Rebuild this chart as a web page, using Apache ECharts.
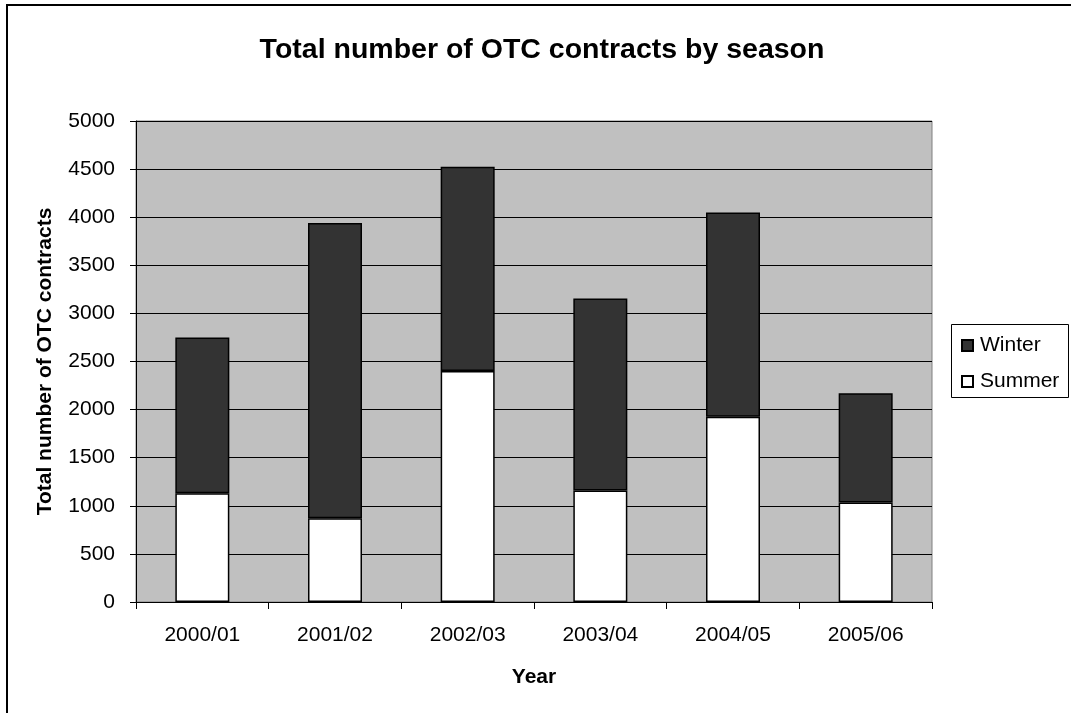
<!DOCTYPE html>
<html>
<head>
<meta charset="utf-8">
<script src="https://cdn.jsdelivr.net/npm/echarts@6/dist/echarts.min.js"></script>
<style>
html,body{margin:0;padding:0;background:#fff;}
#c{width:1071px;height:713px;}
</style>
</head>
<body>
<div id="c"></div>
<script>
var categories = ['2000/01','2001/02','2002/03','2003/04','2004/05','2005/06'];
var summer = [1130, 870, 2400, 1160, 1925, 1035];
var winter = [1620, 3070, 2125, 1995, 2125, 1135];
var yTicks = {min: 0, max: 5000, interval: 500};

var FONT = '"Liberation Sans", Arial, sans-serif';
var chart = echarts.init(document.getElementById('c'), null, {renderer: 'canvas'});
chart.setOption({
  animation: false,
  backgroundColor: '#ffffff',
  title: {
    text: 'Total number of OTC contracts by season',
    left: 537, top: 31, textAlign: 'center',
    textStyle: {fontFamily: FONT, fontSize: 28.5, fontWeight: 'bold', color: '#000'}
  },
  graphic: [
    {type: 'rect', shape: {x: 7, y: 5, width: 1100, height: 750}, style: {fill: 'none', stroke: '#000', lineWidth: 2}, z: -1},
    {type: 'rect', shape: {x: 951.5, y: 324.5, width: 117, height: 73}, style: {fill: '#fff', stroke: '#000', lineWidth: 1}, z: 1}
  ],
  legend: {
    data: ['Winter', 'Summer'],
    orient: 'vertical',
    left: 956, top: 330,
    itemWidth: 11, itemHeight: 11, itemGap: 15,
    icon: 'rect',
    z: 5,
    textStyle: {fontFamily: FONT, fontSize: 21, color: '#000', padding: [0,0,0,2]}
  },
  grid: {
    left: 136, right: 139, top: 121, bottom: 111,
    show: true, backgroundColor: '#C0C0C0', borderColor: '#808080', borderWidth: 1
  },
  xAxis: {
    type: 'category',
    data: categories,
    name: 'Year',
    nameLocation: 'middle',
    nameGap: 65,
    nameTextStyle: {fontFamily: FONT, fontSize: 21, fontWeight: 'bold', color: '#000'},
    axisLine: {lineStyle: {color: '#000', width: 1}},
    axisTick: {show: true, alignWithLabel: false, length: 7, lineStyle: {color: '#000'}},
    axisLabel: {fontFamily: FONT, fontSize: 21, color: '#000', margin: 23},
    splitLine: {show: false}
  },
  yAxis: {
    type: 'value',
    min: yTicks.min, max: yTicks.max, interval: yTicks.interval,
    name: 'Total number of OTC contracts',
    nameLocation: 'middle',
    nameGap: 80,
    nameTextStyle: {fontFamily: FONT, fontSize: 21, fontWeight: 'bold', color: '#000'},
    axisLine: {show: true, lineStyle: {color: '#000', width: 1}},
    axisTick: {show: true, length: 6, lineStyle: {color: '#000'}},
    axisLabel: {fontFamily: FONT, fontSize: 21, color: '#000', margin: 21, formatter: function (v) { return String(v); }},
    splitLine: {show: true, lineStyle: {color: '#000', width: 1}}
  },
  series: [
    {
      name: 'Summer', type: 'bar', stack: 'total', data: summer, barWidth: 54,
      itemStyle: {color: '#ffffff', borderColor: '#000', borderWidth: 1.5}
    },
    {
      name: 'Winter', type: 'bar', stack: 'total', data: winter, barWidth: 54,
      itemStyle: {color: '#333333', borderColor: '#000', borderWidth: 1.5}
    }
  ]
});
</script>
</body>
</html>
